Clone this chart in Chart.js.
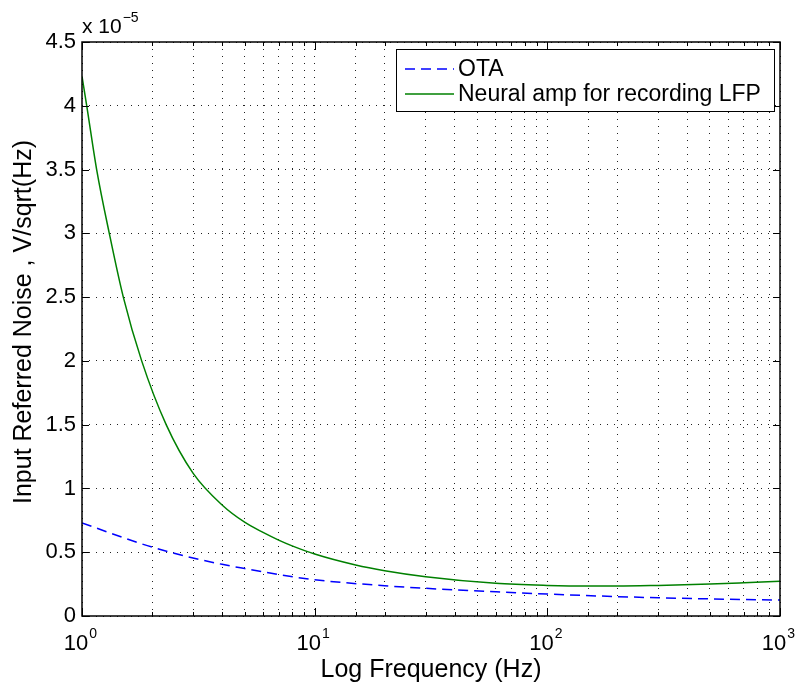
<!DOCTYPE html>
<html>
<head>
<meta charset="utf-8">
<script src="https://cdn.jsdelivr.net/npm/chart.js@4.4.1/dist/chart.umd.min.js"></script>
<style>
  html, body { margin: 0; padding: 0; background: #fff; }
  #wrap { width: 798px; height: 689px; }
</style>
</head>
<body>
<div id="wrap"><canvas id="noiseChart" width="798" height="689"></canvas></div>
<script>
/* ── DATA (noise values in units of 1e-5 V/sqrt(Hz)) ── */
const otaFreq   = [1, 1.5, 2, 3, 4, 5, 7, 10, 20, 30, 60, 100, 200, 300, 500, 1000];
const otaNoise  = [0.73, 0.615, 0.54, 0.455, 0.405, 0.372, 0.325, 0.284, 0.237, 0.217, 0.19, 0.172, 0.152, 0.143, 0.134, 0.125];

const lfpFreq   = [1, 1.048, 1.156, 1.31, 1.505, 1.805, 2.3, 3, 4, 5, 6, 7, 8, 10, 15, 20, 30, 60, 100, 150, 200, 300, 500, 700, 1000];
const lfpNoise  = [4.23, 4.0, 3.5, 3.0, 2.5, 2.0, 1.5, 1.12, 0.87, 0.735, 0.655, 0.595, 0.55, 0.486, 0.40, 0.355, 0.308, 0.256, 0.24, 0.235, 0.235, 0.24, 0.25, 0.26, 0.272];

const yTicks      = [0, 0.5, 1, 1.5, 2, 2.5, 3, 3.5, 4, 4.5];
const xDecades    = [1, 10, 100, 1000];
const xDecadeExps = ['0', '1', '2', '3'];
const seriesNames = ['OTA', 'Neural amp for recording LFP'];

const FONT = 'Liberation Sans, Arial, Helvetica, sans-serif';
const pts = (xs, ys) => xs.map((x, i) => ({ x, y: ys[i] }));

/* ── MATLAB-style frame, ticks, labels, legend ── */
const matlabFrame = {
  id: 'matlabFrame',
  afterDraw(chart) {
    const { ctx, chartArea: a, scales: { x, y } } = chart;
    ctx.save();
    ctx.strokeStyle = '#000';
    ctx.fillStyle = '#000';
    ctx.lineWidth = 1;

    // inward tick marks on all four sides
    ctx.beginPath();
    x.ticks.forEach(t => {
      const px = Math.round(x.getPixelForValue(t.value)) + 0.5;
      const len = xDecades.includes(t.value) ? 8 : 4;
      ctx.moveTo(px, a.bottom); ctx.lineTo(px, a.bottom - len);
      ctx.moveTo(px, a.top);    ctx.lineTo(px, a.top + len);
    });
    yTicks.forEach(v => {
      const py = Math.round(y.getPixelForValue(v)) + 0.5;
      ctx.moveTo(a.left, py);  ctx.lineTo(a.left + 7, py);
      ctx.moveTo(a.right, py); ctx.lineTo(a.right - 7, py);
    });
    ctx.stroke();

    // box
    ctx.lineWidth = 1.5;
    ctx.strokeRect(a.left, a.top, a.right - a.left, a.bottom - a.top);

    // y tick labels
    ctx.font = '22px ' + FONT;
    ctx.textAlign = 'right';
    ctx.textBaseline = 'middle';
    yTicks.forEach(v => ctx.fillText(String(v), a.left - 6, y.getPixelForValue(v)));

    // x tick labels 10^n
    ctx.textAlign = 'left';
    ctx.textBaseline = 'alphabetic';
    xDecades.forEach((v, i) => {
      const px = x.getPixelForValue(v);
      ctx.font = '22px ' + FONT;
      const w1 = ctx.measureText('10').width;
      ctx.font = '14px ' + FONT;
      const w2 = ctx.measureText(xDecadeExps[i]).width;
      const left = px - (w1 + w2) / 2 - 2;
      ctx.font = '22px ' + FONT;
      ctx.fillText('10', left, a.bottom + 34);
      ctx.font = '14px ' + FONT;
      ctx.fillText(xDecadeExps[i], left + w1 + 1, a.bottom + 22);
    });

    // exponent note "x 10^-5"
    ctx.font = '21px ' + FONT;
    ctx.fillText('x 10', a.left, a.top - 9);
    const wx = ctx.measureText('x 10').width;
    ctx.font = '14px ' + FONT;
    ctx.fillText('\u22125', a.left + wx + 1, a.top - 20);

    // axis titles
    ctx.font = '25px ' + FONT;
    ctx.textAlign = 'center';
    ctx.fillText('Log Frequency (Hz)', (a.left + a.right) / 2, a.bottom + 61);
    ctx.save();
    ctx.translate(31, (a.top + a.bottom) / 2 - 7);
    ctx.rotate(-Math.PI / 2);
    ctx.fillText('Input Referred Noise , V/sqrt(Hz)', 0, 0);
    ctx.restore();

    // legend
    const lx = 396, ly = 49, lw = 378, lh = 62;
    ctx.fillStyle = '#fff';
    ctx.fillRect(lx, ly, lw, lh);
    ctx.lineWidth = 1;
    ctx.strokeStyle = '#000';
    ctx.strokeRect(lx + 0.5, ly + 0.5, lw, lh);
    chart.data.datasets.forEach((ds, i) => {
      const yy = ly + 20 + i * 25;
      ctx.strokeStyle = ds.borderColor;
      ctx.lineWidth = ds.borderWidth;
      ctx.setLineDash(ds.borderDash || []);
      ctx.beginPath();
      ctx.moveTo(lx + 9, yy); ctx.lineTo(lx + 58, yy);
      ctx.stroke();
      ctx.setLineDash([]);
      ctx.fillStyle = '#000';
      ctx.font = '23px ' + FONT;
      ctx.textAlign = 'left';
      ctx.textBaseline = 'middle';
      ctx.fillText(ds.label, lx + 62, yy + 1);
    });
    ctx.restore();
  }
};

new Chart(document.getElementById('noiseChart'), {
  type: 'line',
  data: {
    datasets: [
      {
        label: seriesNames[0],
        data: pts(otaFreq, otaNoise),
        borderColor: '#0000ff',
        borderWidth: 1.5,
        borderDash: [10, 6],
        pointRadius: 0,
        cubicInterpolationMode: 'monotone',
      },
      {
        label: seriesNames[1],
        data: pts(lfpFreq, lfpNoise),
        borderColor: '#008000',
        borderWidth: 1.5,
        pointRadius: 0,
        cubicInterpolationMode: 'monotone',
      },
    ],
  },
  options: {
    responsive: false,
    animation: false,
    layout: { padding: { left: 82, top: 42, right: 18, bottom: 73 } },
    plugins: { legend: { display: false }, tooltip: { enabled: false } },
    scales: {
      x: {
        type: 'logarithmic',
        min: 1, max: 1000,
        border: { display: false, dash: [1, 6] },
        grid: { color: '#222', lineWidth: 1, drawTicks: false },
        ticks: { display: false },
        afterFit: s => { s.height = 0; },
      },
      y: {
        min: 0, max: 4.5,
        border: { display: false, dash: [1, 6] },
        grid: { color: '#222', lineWidth: 1, drawTicks: false },
        ticks: { display: false, stepSize: 0.5 },
        afterFit: s => { s.width = 0; },
      },
    },
  },
  plugins: [matlabFrame],
});
</script>
</body>
</html>
